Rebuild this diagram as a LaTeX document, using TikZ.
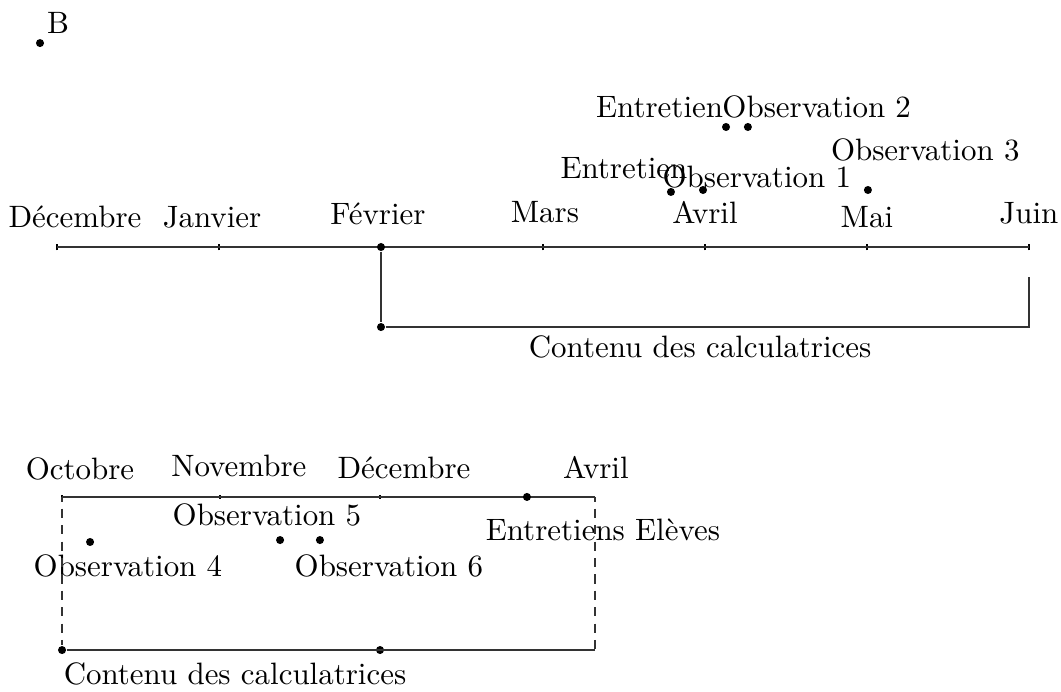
\documentclass[tikz,border=0pt]{standalone}

\begin{document}
\begin{tikzpicture}[x=1.84cm,y=1.84cm,
    dot/.style={circle,fill,inner sep=0pt,minimum size=2.6pt},
    lbl/.style={anchor=base,inner sep=0pt},
    axe/.style={line width=0.45pt,black!80},
    tick/.style={line width=0.4pt}
  ]
\useasboundingbox (-0.352,-2.741) rectangle (6.198,1.525);

% frise du haut
\foreach \i in {0,...,6} {
  \coordinate (t\i) at (\i,0);
  \draw[tick] (\i,-0.02) -- (\i,0.02);
}
\draw[axe] (t0) -- (t6);
\node[lbl] (dec) at (0.111,0.123) {Décembre};
\node[lbl] (jan) at (0.957,0.123) {Janvier};
\node[lbl] (fev) at (1.981,0.142) {Février};
\node[lbl] (mar) at (3.012,0.154) {Mars};
\node[lbl] (avr) at (4.000,0.148) {Avril};
\node[lbl] (mai) at (5.000,0.123) {Mai};
\node[lbl] (jui) at (6.000,0.148) {Juin};

\node[dot] (pB) at (-0.105,1.259) {};
\node[lbl] (lB) at (0.006,1.321) {B};

\node[dot] (e1) at (3.790,0.340) {};
\node[dot] (o1) at (3.988,0.352) {};
\node[dot] (e2) at (4.130,0.741) {};
\node[dot] (o2) at (4.265,0.741) {};
\node[dot] (o3) at (5.006,0.352) {};
\node[lbl] (le1) at (3.500,0.420) {Entretien};
\node[lbl] (lo1) at (4.320,0.370) {Observation 1};
\node[lbl] (le2) at (3.720,0.800) {Entretien};
\node[lbl] (lo2) at (4.690,0.800) {Observation 2};
\node[lbl] (lo3) at (5.360,0.537) {Observation 3};

% contenu des calculatrices (haut)
\node[dot] (c1) at (t2) {};
\node[dot] (c2) at (2,-0.494) {};
\coordinate (c3) at (6,-0.494);
\coordinate (c4) at (6,-0.185);
\draw[axe] (c1) -- (c2) -- (c3) -- (c4);
\node[lbl] (lc1) at (3.970,-0.679) {Contenu des calculatrices};

% frise du bas
\coordinate (b0) at (0.031,-1.543);
\coordinate (b1) at (1.006,-1.543);
\coordinate (b2) at (1.994,-1.543);
\coordinate (b3) at (3.321,-1.543);
\foreach \p in {b0,b1,b2}
  \draw[tick] ([yshift=-0.6pt]\p) -- ([yshift=0.6pt]\p);
\draw[axe] (b0) -- (b3);
\node[dot] (ent) at (2.901,-1.543) {};
\node[lbl] (oct) at (0.142,-1.438) {Octobre};
\node[lbl] (nov) at (1.123,-1.414) {Novembre};
\node[lbl] (dec2) at (2.142,-1.426) {Décembre};
\node[lbl] (avr2) at (3.327,-1.426) {Avril};
\node[lbl] (lent) at (3.370,-1.809) {Entretiens Elèves};

\node[dot] (o4) at (0.204,-1.821) {};
\node[dot] (o5) at (1.377,-1.809) {};
\node[dot] (o6) at (1.623,-1.809) {};
\node[lbl] (lo4) at (0.438,-2.031) {Observation 4};
\node[lbl] (lo5) at (1.296,-1.722) {Observation 5};
\node[lbl] (lo6) at (2.049,-2.031) {Observation 6};

% contenu des calculatrices (bas)
\node[dot] (d0) at (0.031,-2.488) {};
\node[dot] (d1) at (1.994,-2.488) {};
\coordinate (d2) at (3.321,-2.488);
\draw[axe,dash pattern=on 3pt off 2.3pt,dash phase=1.5pt] (b0) -- (d0);
\draw[axe,dash pattern=on 3pt off 2.3pt,dash phase=1.5pt] (b3) -- (d2);
\draw[axe] (d0) -- (d2);
\node[lbl] (lc2) at (1.099,-2.698) {Contenu des calculatrices};
\end{tikzpicture}
\end{document}
